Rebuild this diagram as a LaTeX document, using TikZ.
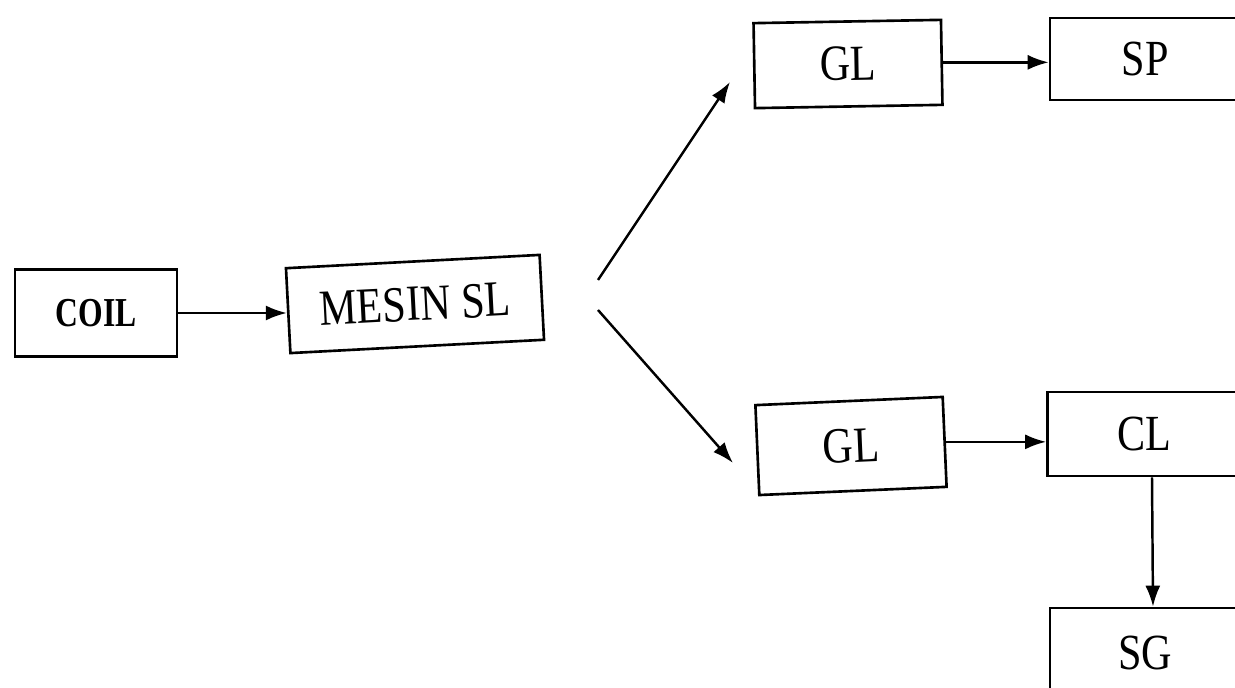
\documentclass[tikz,border=0pt]{standalone}
\usepackage{fontspec}
\usepackage{graphicx}
\setmainfont{Liberation Serif}
\usetikzlibrary{positioning, arrows.meta}
\newcommand{\tallText}[2][1.2]{\scalebox{1}[#1]{#2}} % letters of the scan are narrow and tall
\tikzset{
    ->, % makes the edges directed
    >={Latex[length=4.2mm,width=3mm]}, % filled arrow heads
    every node/.style={line width=1.5pt}, % frame thickness of the boxes
}

\begin{document}
\begin{tikzpicture}[
                                x=0.02cm, y=-0.02cm,
                                line width=1.4pt,
                                styleBox/.style={draw, rectangle, minimum width=3.75cm, minimum height=1.7cm, font=\fontsize{24}{28}\selectfont},
                                styleSmall/.style={styleBox, minimum width=3.24cm, minimum height=1.74cm, font=\bfseries\fontsize{18}{22}\selectfont},
                            ]
                            \useasboundingbox (0,0) rectangle (1235,688);
                            \clip (0,0) rectangle (1235,688);
                            \node[styleSmall] (coil) at (96,313) {\tallText[1.3]{COIL}};
                            \node[styleBox, minimum width=5.08cm, rotate=3] (mesin) at (415,304) {\tallText{MESIN SL}};
                            \node[styleBox, rotate=1] (glA) at (848,64) {\tallText{GL}};
                            \node[styleBox, minimum width=3.8cm, minimum height=1.64cm] (sp) at (1145,59) {\tallText{SP}};
                            \node[styleBox, minimum height=1.8cm, rotate=2.5] (glB) at (851,446) {\tallText{GL}};
                            \node[styleBox, minimum width=3.86cm, minimum height=1.68cm] (cl) at (1144,434) {\tallText{CL}};
                            \node[styleBox, minimum width=3.8cm, minimum height=1.8cm] (sg) at (1145,653) {\tallText{SG}};
                            \coordinate (splitA) at (598,280);
                            \coordinate (tipA) at (730,82);
                            \coordinate (splitB) at (598,310);
                            \coordinate (tipB) at (733,463);
                            \draw (coil.east) -- (coil.east -| mesin.west);
                            \draw (splitA) -- (tipA);
                            \draw (splitB) -- (tipB);
                            \draw (glA.east) -- (glA.east -| sp.west);
                            \draw (glB.east) -- (glB.east -| cl.west);
                            \draw ([xshift=0.16cm]cl.south) -- ([xshift=0.16cm]sg.north);
                        \end{tikzpicture}
\end{document}
